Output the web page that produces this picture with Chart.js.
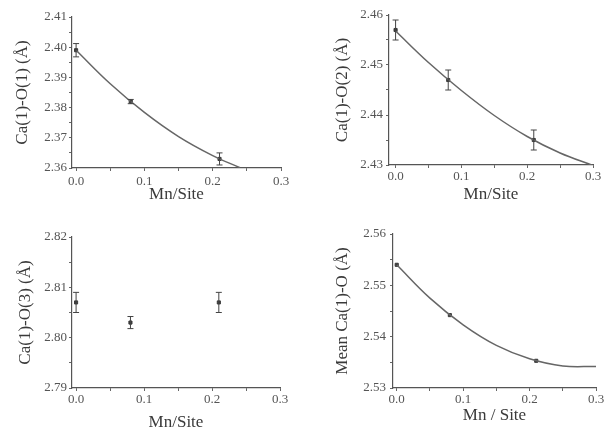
<!DOCTYPE html>
<html>
<head>
<meta charset="utf-8">
<script src="https://cdn.jsdelivr.net/npm/chart.js@4/dist/chart.umd.min.js"></script>
<style>
  html, body { margin: 0; padding: 0; background: #fff; overflow: hidden; width: 615px; height: 429px; position: relative; }
  canvas { position: absolute; }
</style>
</head>
<body>
<canvas id="c1" width="300" height="215" style="left:0;top:0"></canvas>
<canvas id="c2" width="315" height="215" style="left:300px;top:0"></canvas>
<canvas id="c3" width="300" height="224" style="left:0;top:215px"></canvas>
<canvas id="c4" width="315" height="224" style="left:300px;top:215px"></canvas>
<script>
// measured samples, Mn per site
const mnSite = [0, 0.08, 0.21];

// Ca(1)-O(1)
const o1Dist = [2.399, 2.382, 2.363];
const o1Err = [0.0022, 0.0007, 0.002];
const o1FitX = [0, 0.05, 0.1, 0.15, 0.2, 0.24];
const o1FitY = [2.399, 2.3879, 2.3784, 2.3704, 2.3641, 2.3601];

// Ca(1)-O(2)
const o2Dist = [2.457, 2.447, 2.435];
const o2Err = [0.002, 0.002, 0.002];
const o2FitX = [0, 0.05, 0.1, 0.15, 0.2, 0.25, 0.3];
const o2FitY = [2.4568, 2.4505, 2.4449, 2.4399, 2.4357, 2.4324, 2.4299];

// Ca(1)-O(3)
const o3Dist = [2.807, 2.803, 2.807];
const o3Err = [0.002, 0.0012, 0.002];

// mean Ca(1)-O
const meanDist = [2.554, 2.5442, 2.5353];
const meanErr = [0, 0, 0];
const meanFitX = [0, 0.05, 0.1, 0.15, 0.2, 0.25, 0.3];
const meanFitY = [2.554, 2.5475, 2.5423, 2.5383, 2.5357, 2.5343, 2.5342];

const ink = "#3a3a3a";
const serif = "'Liberation Serif', 'DejaVu Serif', serif";

const errorBars = {
  id: "errorBars",
  afterDatasetsDraw(chart) {
    const { ctx, scales: { x, y } } = chart;
    chart.data.datasets.forEach((ds) => {
      if (!ds.errors) return;
      ctx.save();
      ctx.strokeStyle = "#444";
      ctx.lineWidth = 1;
      ds.data.forEach((p, i) => {
        const e = ds.errors[i];
        if (!e) return;
        const px = x.getPixelForValue(p.x);
        const top = y.getPixelForValue(p.y + e);
        const bot = y.getPixelForValue(p.y - e);
        ctx.beginPath();
        ctx.moveTo(px, top); ctx.lineTo(px, bot);
        ctx.moveTo(px - 3, top); ctx.lineTo(px + 3, top);
        ctx.moveTo(px - 3, bot); ctx.lineTo(px + 3, bot);
        ctx.stroke();
      });
      ctx.restore();
    });
  },
};

function pairs(xs, ys) {
  return xs.map((v, i) => ({ x: v, y: ys[i] }));
}

function panel(id, p) {
  const datasets = [];
  if (p.fitX) {
    datasets.push({
      data: pairs(p.fitX, p.fitY),
      showLine: true,
      pointRadius: 0,
      borderColor: "#666",
      borderWidth: 1.5,
      tension: 0.4,
    });
  }
  datasets.push({
    data: pairs(mnSite, p.values),
    errors: p.errors,
    pointStyle: "rect",
    pointRadius: 2.2,
    backgroundColor: ink,
    borderColor: ink,
  });

  return new Chart(document.getElementById(id), {
    type: "scatter",
    data: { datasets },
    options: {
      responsive: false,
      animation: false,
      layout: { padding: { left: 0, top: p.top, right: p.right, bottom: 0 } },
      plugins: { legend: { display: false }, tooltip: { enabled: false } },
      scales: {
        x: {
          min: p.xMin,
          max: 0.3,
          afterFit: (s) => { s.height = p.xHeight; },
          border: { color: "#555", width: 1.2 },
          grid: { drawOnChartArea: false, tickLength: 3, color: "#666" },
          ticks: {
            stepSize: 0.05,
            includeBounds: false,
            maxRotation: 0,
            autoSkip: false,
            padding: p.xPad,
            color: "#555",
            font: { family: serif, size: 13 },
            callback: (v) =>
              Math.abs(v * 10 - Math.round(v * 10)) < 1e-6 ? v.toFixed(1) : "",
          },
          title: {
            display: true,
            text: p.xTitle,
            color: ink,
            font: { family: serif, size: 17 },
            padding: { top: 0, bottom: p.xTitlePad },
          },
        },
        y: {
          min: p.yMin,
          max: p.yMax,
          afterFit: (s) => { s.width = p.yWidth; },
          border: { color: "#555", width: 1.2 },
          grid: { drawOnChartArea: false, tickLength: 3, color: "#666" },
          ticks: {
            stepSize: 0.005,
            autoSkip: false,
            padding: p.yPad,
            color: "#555",
            font: { family: serif, size: 13 },
            callback: (v) =>
              Math.abs(v * 100 - Math.round(v * 100)) < 1e-6 ? v.toFixed(2) : "",
          },
          title: {
            display: true,
            text: p.yTitle,
            color: ink,
            font: { family: serif, size: 17 },
            padding: { top: p.yTitlePad, bottom: 0 },
          },
        },
      },
    },
    plugins: [errorBars],
  });
}

panel("c1", {
  values: o1Dist, errors: o1Err, fitX: o1FitX, fitY: o1FitY,
  yMin: 2.36, yMax: 2.41, xMin: -0.006,
  yTitle: "Ca(1)-O(1) (Å)", xTitle: "Mn/Site",
  top: 17, right: 19, yWidth: 72, xHeight: 47,
  xPad: 3, yPad: 2, xTitlePad: 10, yTitlePad: 12,
});

panel("c2", {
  values: o2Dist, errors: o2Err, fitX: o2FitX, fitY: o2FitY,
  yMin: 2.43, yMax: 2.46, xMin: -0.01,
  yTitle: "Ca(1)-O(2) (Å)", xTitle: "Mn/Site",
  top: 15, right: 22, yWidth: 89, xHeight: 50,
  xPad: 1, yPad: 3, xTitlePad: 10, yTitlePad: 32,
});

panel("c3", {
  values: o3Dist, errors: o3Err,
  yMin: 2.79, yMax: 2.82, xMin: -0.006,
  yTitle: "Ca(1)-O(3) (Å)", xTitle: "Mn/Site",
  top: 22, right: 20, yWidth: 72, xHeight: 51,
  xPad: 1, yPad: 2, xTitlePad: 6, yTitlePad: 15,
});

panel("c4", {
  values: meanDist, errors: meanErr, fitX: meanFitX, fitY: meanFitY,
  yMin: 2.53, yMax: 2.56, xMin: -0.0056,
  yTitle: "Mean Ca(1)-O (Å)", xTitle: "Mn / Site",
  top: 19, right: 19, yWidth: 93, xHeight: 51,
  xPad: 1, yPad: 4, xTitlePad: 13, yTitlePad: 32,
});
</script>
</body>
</html>
